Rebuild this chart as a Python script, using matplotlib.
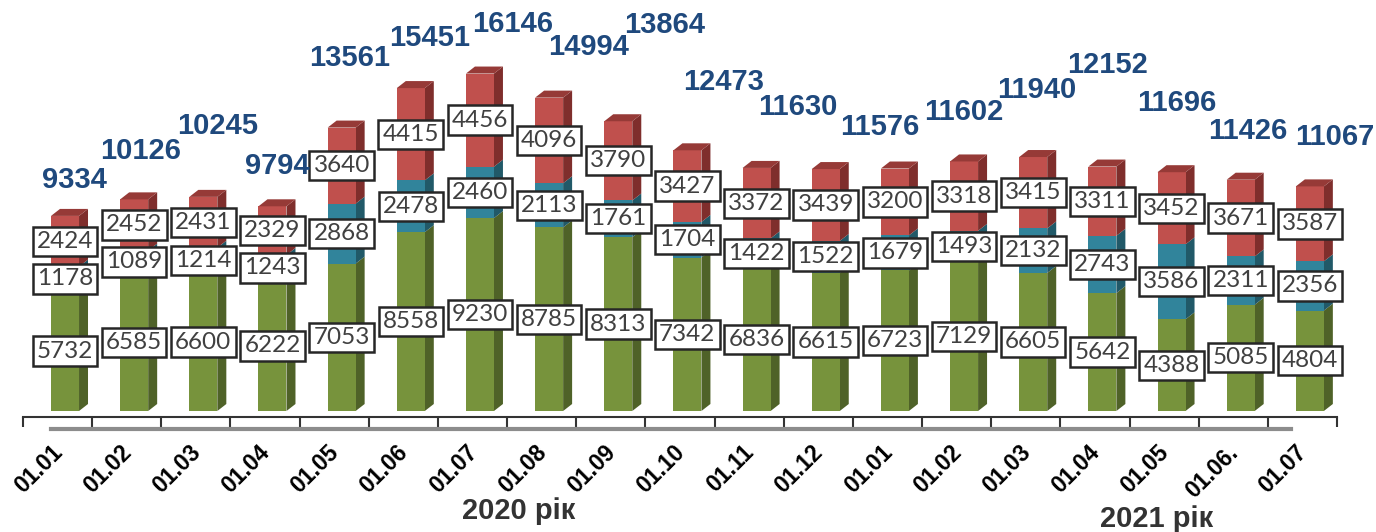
import matplotlib.pyplot as plt
import matplotlib.transforms as mtransforms
from matplotlib.patches import Polygon, Rectangle

plt.rcParams['font.family'] = ['Lato', 'Open Sans', 'DejaVu Sans']
BOLD = ['Liberation Sans', 'DejaVu Sans']
NARROW = ['Liberation Sans Narrow', 'Liberation Sans', 'DejaVu Sans']

dates = ['01.01', '01.02', '01.03', '01.04', '01.05', '01.06', '01.07', '01.08', '01.09',
         '01.10', '01.11', '01.12', '01.01', '01.02', '01.03', '01.04', '01.05', '01.06.', '01.07']
green = [5732, 6585, 6600, 6222, 7053, 8558, 9230, 8785, 8313, 7342,
         6836, 6615, 6723, 7129, 6605, 5642, 4388, 5085, 4804]
teal = [1178, 1089, 1214, 1243, 2868, 2478, 2460, 2113, 1761, 1704,
        1422, 1522, 1679, 1493, 2132, 2743, 3586, 2311, 2356]
red = [2424, 2452, 2431, 2329, 3640, 4415, 4456, 4096, 3790, 3427,
       3372, 3439, 3200, 3318, 3415, 3311, 3452, 3671, 3587]
# totals as they appear above the chart (last one is not shown)
totals = [9334, 10126, 10245, 9794, 13561, 15451, 16146, 14994, 13864,
          12473, 11630, 11576, 11602, 11940, 12152, 11696, 11426, 11067]

# manual nudges of the total labels (pixels, right / up), like dragged labels in the original
total_nudge = [(15, 36), (8, 48), (12, 71), (-1, 40), (-2, 70), (5, 50), (15, 50), (18, 51),
               (21, 96), (7, 68), (8, 61), (17, 42), (28, 57), (28, 71), (26, 92), (22, 64),
               (20, 41), (34, 43)]

series = [(green, '#77933C', '#4F6228', '#5E7A2E'),
          (teal, '#31849B', '#215968', '#276B7D'),
          (red, '#C0504D', '#7F2E2C', '#963A37')]

fig = plt.figure(figsize=(13.76, 5.32), dpi=100)
ax = fig.add_axes([23 / 1376, 1 - 417 / 532, 1314 / 1376, 417 / 532])
ax.set_xlim(-0.5, 18.5)
ax.set_ylim(-287, 19665)

w = 0.405      # front face width
x_off = -0.095  # front face left edge relative to category centre
dx = 0.13      # depth, x
dy = 335       # depth, y

for i in range(len(dates)):
    base = 0
    for k, (vals, c_front, c_side, c_top) in enumerate(series):
        v = vals[i]
        x0 = i + x_off
        x1 = x0 + w
        y0, y1 = base, base + v
        ax.add_patch(Polygon([(x1, y0), (x1 + dx, y0 + dy), (x1 + dx, y1 + dy), (x1, y1)],
                             closed=True, facecolor=c_side, edgecolor='none'))
        ax.add_patch(Rectangle((x0, y0), w, v, facecolor=c_front, edgecolor='none'))
        if k == len(series) - 1:
            ax.add_patch(Polygon([(x0, y1), (x0 + dx, y1 + dy), (x1 + dx, y1 + dy), (x1, y1)],
                                 closed=True, facecolor=c_top, edgecolor='none'))
        ax.text(x0 + w / 2, base + v / 2, str(v), ha='center', va='center',
                fontsize=17.5, color='#404040', zorder=5,
                bbox=dict(boxstyle='square,pad=0.17', facecolor='white',
                          edgecolor='#262626', linewidth=1.8))
        base += v

# totals sit on their own (shifted) category axis
ax2 = ax.twiny()
ax2.set_xlim(-0.5, len(totals) - 0.5)
ax2.axis('off')
for k, t in enumerate(totals):
    ax2.annotate(str(t), xy=(k, t), xytext=total_nudge[k], textcoords='offset pixels',
                 ha='center', va='center', family=BOLD,
                 fontsize=21, fontweight='bold', color='#1F497D')

for s in ['top', 'right', 'left']:
    ax.spines[s].set_visible(False)
ax.spines['bottom'].set_linewidth(1.5)
ax.spines['bottom'].set_color('#333333')
ax.set_yticks([])
ax.set_xticks(range(len(dates)))
ax.set_xticklabels(dates, rotation=45, ha='right', va='top', rotation_mode='anchor',
                   fontsize=16.5, fontweight='bold', color='black', family=BOLD)
ax.tick_params(axis='x', which='major', length=0, pad=15)
shift = mtransforms.ScaledTranslation(-7 / 100, -3 / 100, fig.dpi_scale_trans)
for lab in ax.get_xticklabels():
    lab.set_transform(lab.get_transform() + shift)
ax.set_xticks([i - 0.5 for i in range(len(dates) + 1)], minor=True)
ax.tick_params(axis='x', which='minor', length=7, width=1.5, color='#333333', direction='out')

ax.plot([-0.1, 17.84], [-0.029, -0.029], transform=ax.get_xaxis_transform(),
        color='#8C8C8C', linewidth=3, clip_on=False)

fig.text(519 / 1376, 1 - 511 / 532, '2020 рік', ha='center', va='center', family=NARROW,
         fontsize=21, fontweight='bold', color='#333333')
fig.text(1157 / 1376, 1 - 519 / 532, '2021 рік', ha='center', va='center', family=NARROW,
         fontsize=21, fontweight='bold', color='#333333')

fig.savefig('out.png', dpi=100)
